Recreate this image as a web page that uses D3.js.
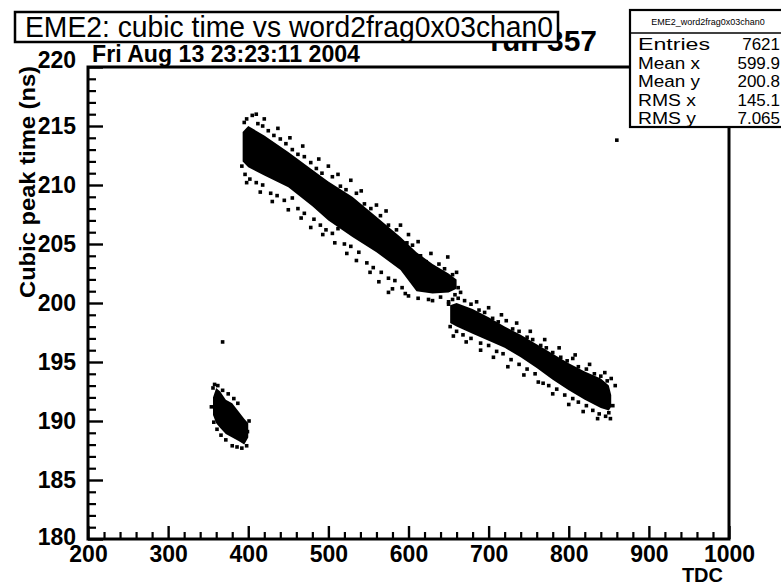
<!DOCTYPE html>
<html><head><meta charset="utf-8">
<script src="https://cdn.jsdelivr.net/npm/d3@7"></script>
<style>
body{margin:0;background:#fff}
text{font-family:"Liberation Sans",Arial,Helvetica,sans-serif;fill:#000}
</style>
</head><body>
<svg id="chart" width="781" height="585"></svg>
<script>
// ---------- data ----------
const titleText = "EME2: cubic time vs word2frag0x03chan0";
const dateText = "Fri Aug 13 23:23:11 2004";
const runText = "run 357";
const xLabel = "TDC";
const yLabel = "Cubic peak time (ns)";
const xTicks = [200, 300, 400, 500, 600, 700, 800, 900, 1000];
const yTicks = [180, 185, 190, 195, 200, 205, 210, 215, 220];
const statsName = "EME2_word2frag0x03chan0";
const statsKeys = ["Entries", "Mean x", "Mean y", "RMS x", "RMS y"];
const statsVals = ["7621", "599.9", "200.8", "145.1", "7.065"];

// dense cores of the scatter: x (TDC) with lower / upper edge (ns)
const band1X  = [393, 400, 420, 450, 480, 500, 530, 560, 590, 610, 630, 650, 660];
const band1Hi = [214.5, 215.0, 214.2, 212.8, 211.3, 210.3, 209.0, 207.3, 205.6, 204.3, 203.3, 202.5, 202.0];
const band1Lo = [212.0, 211.5, 210.8, 209.8, 208.2, 207.0, 205.6, 204.3, 202.8, 201.0, 200.8, 200.9, 201.2];
const band2X  = [652, 660, 680, 700, 720, 740, 760, 780, 800, 820, 840, 850, 853];
const band2Hi = [199.8, 200.0, 199.5, 198.8, 198.0, 197.3, 196.5, 195.7, 194.9, 194.2, 193.6, 193.0, 192.2];
const band2Lo = [198.3, 198.0, 197.4, 196.8, 196.2, 195.4, 194.5, 193.5, 192.6, 191.8, 191.1, 190.9, 191.2];
const band3X  = [356, 360, 365, 372, 380, 388, 395, 400];
const band3Hi = [192.0, 192.8, 192.5, 191.8, 191.5, 190.8, 190.2, 189.8];
const band3Lo = [190.5, 189.8, 189.4, 188.9, 188.6, 188.3, 188.0, 188.6];

// individual entries around the cores
const pointsX = [
 395,398,405,412,418,425,432,440,447,455,462,470,478,485,492,505,515,522,535,545,553,565,575,585,598,605,615,622,638,645,655,649,
 392,396,402,410,418,428,436,445,455,462,470,482,490,497,505,512,520,528,538,548,556,566,575,583,592,600,612,625,640,658,662,575,
 650,655,662,670,678,688,695,705,712,722,730,738,748,755,765,772,780,790,798,805,812,822,832,840,848,853,
 652,660,668,678,690,700,710,718,728,738,748,758,768,775,785,795,805,812,822,830,838,846,850,855,
 356,358,362,368,375,382,387,354,357,361,366,372,380,386,392,398,399,401,368,860,
 410,420,437,452,468,488,500,512,528,541,560,572,590,600,612,628,660,
 398,415,430,450,466,478,493,508,523,535,552,563,580,596,630,650,
 665,685,700,716,735,752,770,788,808,826,845,858,
 656,672,690,706,724,744,762,780,800,818,836,852];
const pointsY = [
 215.3,215.6,215.9,215.2,215.0,214.6,214.2,213.9,213.5,213.0,212.6,212.4,211.9,211.4,211.0,210.7,209.9,209.6,209.3,208.4,208.0,207.4,206.6,206.2,205.1,204.9,204.0,203.5,203.3,202.9,202.4,203.9,
 211.6,210.9,210.5,210.2,210.0,209.3,209.1,208.7,208.9,208.0,207.6,207.1,206.6,206.2,205.9,206.3,205.0,204.8,204.3,203.4,203.0,202.6,202.1,201.9,201.3,200.6,200.4,200.3,200.5,200.7,201.3,200.9,
 199.9,200.3,200.4,200.2,199.9,199.4,199.2,198.7,198.4,198.5,197.8,197.6,197.1,196.9,196.4,196.2,195.8,195.4,195.1,195.3,194.6,194.4,194.0,193.8,193.4,193.6,
 198.0,197.6,197.3,197.0,196.6,196.4,195.9,195.7,195.2,194.8,194.4,194.0,193.2,193.0,192.7,192.2,191.9,191.6,191.3,190.9,190.6,190.4,190.7,191.3,
 192.8,193.1,193.0,192.6,192.3,191.9,191.5,191.2,189.9,189.3,188.8,188.4,187.9,187.8,187.7,187.9,189.1,190.0,196.7,213.8,
 216.0,215.6,214.8,214.0,213.3,212.2,211.6,210.9,210.4,209.5,208.3,207.8,206.6,205.8,205.2,204.2,202.6,
 210.2,209.4,208.6,207.9,207.2,206.4,205.8,205.1,204.2,203.6,202.6,201.8,201.2,200.8,200.2,200.1,
 200.9,200.1,199.6,199.0,198.3,197.6,196.9,196.2,195.6,194.8,194.1,193.0,
 197.2,196.7,196.0,195.4,194.6,193.9,193.3,192.3,191.4,190.8,190.2,190.2];

// ---------- drawing ----------
const svg = d3.select("#chart");
const L = 88, R = 729, T = 67, B = 539;
const x = d3.scaleLinear().domain([200, 1000]).range([L, R]);
const y = d3.scaleLinear().domain([180, 220]).range([B, T]);

svg.append("defs").append("clipPath").attr("id", "clip")
  .append("rect").attr("x", L).attr("y", T).attr("width", R - L).attr("height", B - T);
const plot = svg.append("g").attr("clip-path", "url(#clip)");

function band(xs, hi, lo) {
  const d = xs.map((v, i) => ({x: v, hi: hi[i], lo: lo[i]}));
  plot.append("path").datum(d)
    .attr("d", d3.area().x(p => x(p.x)).y0(p => y(p.lo)).y1(p => y(p.hi)))
    .attr("fill", "#000");
}
band(band1X, band1Hi, band1Lo);
band(band2X, band2Hi, band2Lo);
band(band3X, band3Hi, band3Lo);

const pts = pointsX.map((v, i) => [v, pointsY[i]]);
plot.selectAll("rect.pt").data(pts).enter().append("rect").attr("class", "pt")
  .attr("x", d => x(d[0]) - 1.8).attr("y", d => y(d[1]) - 1.8)
  .attr("width", 3.6).attr("height", 3.6).attr("fill", "#000");

// minor ticks
const xMinor = d3.range(200, 1001, 20).filter(v => v % 100 !== 0);
const yMinor = d3.range(180, 221, 1).filter(v => v % 5 !== 0);
svg.append("g").attr("transform", `translate(0,${B})`)
  .call(d3.axisBottom(x).tickValues(xMinor).tickFormat("").tickSizeInner(-7).tickSizeOuter(0))
  .call(g => g.select(".domain").remove())
  .selectAll("line").attr("stroke", "#000").attr("stroke-width", 2.2);
svg.append("g").attr("transform", `translate(${L},0)`)
  .call(d3.axisLeft(y).tickValues(yMinor).tickFormat("").tickSizeInner(-8).tickSizeOuter(0))
  .call(g => g.select(".domain").remove())
  .selectAll("line").attr("stroke", "#000").attr("stroke-width", 2.2);

// major ticks + labels
const gx = svg.append("g").attr("transform", `translate(0,${B})`)
  .call(d3.axisBottom(x).tickValues(xTicks).tickFormat(d3.format("d")).tickSizeInner(-13).tickSizeOuter(0).tickPadding(7));
gx.select(".domain").remove();
gx.selectAll("line").attr("stroke", "#000").attr("stroke-width", 2.4);
gx.selectAll("text").attr("font-size", 23).attr("font-weight", "bold")
  .attr("font-family", "Liberation Sans, Arial, sans-serif").attr("fill", "#000");

const gy = svg.append("g").attr("transform", `translate(${L},0)`)
  .call(d3.axisLeft(y).tickValues(yTicks).tickFormat(d3.format("d")).tickSizeInner(-15).tickSizeOuter(0).tickPadding(12));
gy.select(".domain").remove();
gy.selectAll("line").attr("stroke", "#000").attr("stroke-width", 2.4);
gy.selectAll("text").attr("font-size", 23).attr("font-weight", "bold")
  .attr("font-family", "Liberation Sans, Arial, sans-serif").attr("fill", "#000");
gy.selectAll(".tick").filter(d => d === 220).select("text").attr("y", -7);
gy.selectAll(".tick").filter(d => d === 180).select("text").attr("y", -2);

// frame
svg.append("rect").attr("x", L).attr("y", T).attr("width", R - L).attr("height", B - T)
  .attr("fill", "none").attr("stroke", "#000").attr("stroke-width", 3);

// axis titles
svg.append("text").attr("x", 723).attr("y", 582).attr("text-anchor", "end")
  .attr("font-size", 20).attr("font-weight", "bold").text(xLabel);
svg.append("text").attr("transform", "translate(35,66) rotate(-90)").attr("text-anchor", "end")
  .attr("font-size", 22).attr("font-weight", "bold")
  .attr("textLength", 232).attr("lengthAdjust", "spacingAndGlyphs").text(yLabel);

// date
svg.append("text").attr("x", 92).attr("y", 62).attr("font-size", 23).attr("font-weight", "bold")
  .attr("textLength", 268).attr("lengthAdjust", "spacingAndGlyphs").text(dateText);

// run label (partly hidden behind title box)
svg.append("text").attr("x", 597).attr("y", 51).attr("text-anchor", "end")
  .attr("font-size", 30).attr("font-weight", "bold").text(runText);

// title box
svg.append("rect").attr("x", 15).attr("y", 12).attr("width", 543).attr("height", 30)
  .attr("fill", "#fff").attr("stroke", "#000").attr("stroke-width", 2.5);
svg.append("text").attr("x", 25).attr("y", 37).attr("font-size", 29)
  .attr("textLength", 528).attr("lengthAdjust", "spacingAndGlyphs").text(titleText);

// stats box
const keyLen = [72, 62, 62, 58, 58];
const sb = svg.append("g");
sb.append("rect").attr("x", 630).attr("y", 10).attr("width", 160).attr("height", 117)
  .attr("fill", "#fff").attr("stroke", "#000").attr("stroke-width", 2.2);
sb.append("line").attr("x1", 630).attr("x2", 781).attr("y1", 33).attr("y2", 33)
  .attr("stroke", "#000").attr("stroke-width", 1.5);
sb.append("text").attr("x", 708).attr("y", 25).attr("text-anchor", "middle")
  .attr("font-size", 9).text(statsName);
statsKeys.forEach((k, i) => {
  sb.append("text").attr("x", 638).attr("y", 50 + i * 18.5).attr("font-size", 16)
    .attr("textLength", keyLen[i]).attr("lengthAdjust", "spacingAndGlyphs").text(k);
  sb.append("text").attr("x", 780).attr("y", 50 + i * 18.5).attr("text-anchor", "end")
    .attr("font-size", 17).text(statsVals[i]);
});
</script>
</body></html>
